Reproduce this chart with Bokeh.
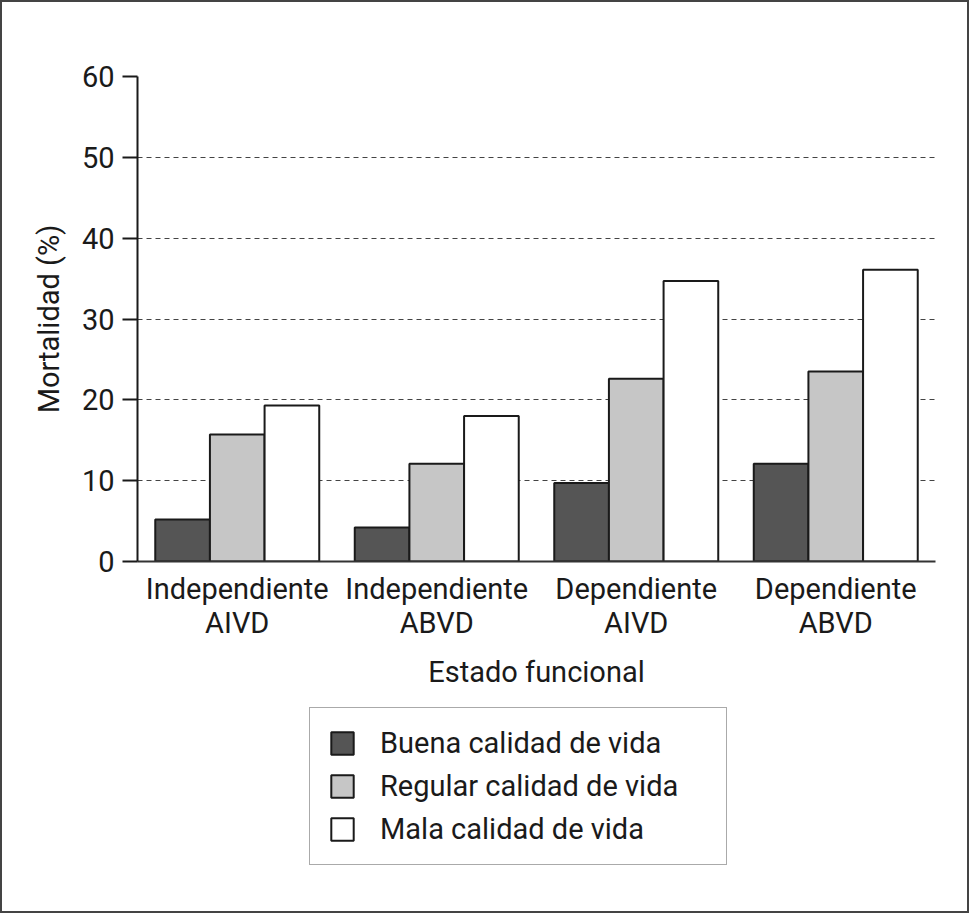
from bokeh.plotting import figure
from bokeh.layouts import column
from bokeh.models import ColumnDataSource, Range1d, FactorRange, FixedTicker, Legend, LegendItem
from bokeh.transform import dodge
from bokeh.embed import file_html
from bokeh.resources import INLINE

categories = ["Independiente\nAIVD", "Independiente\nABVD", "Dependiente\nAIVD", "Dependiente\nABVD"]
buena = [5.2, 4.2, 9.7, 12.1]
regular = [15.7, 12.1, 22.6, 23.5]
mala = [19.3, 18.0, 34.7, 36.1]
series_names = ["Buena calidad de vida", "Regular calidad de vida", "Mala calidad de vida"]
y_ticks = [0, 10, 20, 30, 40, 50, 60]

FONT = "Roboto"
FS = "29px"
TXT = "#1a1a1a"
fills = ["#555555", "#c6c6c6", "#ffffff"]
OUTLINE = "#1a1a1a"

source = ColumnDataSource(data=dict(cat=categories, buena=buena, regular=regular, mala=mala))

p = figure(x_range=categories, y_range=Range1d(0, 60),
           width=965, height=698,
           min_border_left=135, min_border_right=32, min_border_top=74, min_border_bottom=139,
           output_backend="svg", toolbar_location=None)

bw = 0.274
fields = ["buena", "regular", "mala"]
offsets = [-bw, 0.0, bw]
for f, c, o in zip(fields, fills, offsets):
    p.vbar(x=dodge("cat", o, range=p.x_range), top=f, width=bw, bottom=0,
           source=source, fill_color=c, line_color=OUTLINE, line_width=2)

p.outline_line_color = None
p.xgrid.grid_line_color = None
p.ygrid.grid_line_color = "#444444"
p.ygrid.grid_line_dash = "5 4"
p.ygrid.grid_line_width = 1
p.ygrid.ticker = FixedTicker(ticks=y_ticks)

p.yaxis.ticker = FixedTicker(ticks=y_ticks)
p.yaxis.minor_tick_line_color = None
p.yaxis.major_tick_in = 0
p.yaxis.major_tick_out = 15
p.yaxis.major_tick_line_width = 2
p.yaxis.major_tick_line_color = "#1a1a1a"
p.yaxis.axis_line_width = 2
p.yaxis.axis_line_color = "#1a1a1a"
p.yaxis.major_label_standoff = 8
p.yaxis.axis_label = "Mortalidad (%)"
p.yaxis.axis_label_standoff = 13

p.xaxis.major_tick_line_color = None
p.xaxis.minor_tick_line_color = None
p.xaxis.axis_line_width = 2
p.xaxis.axis_line_color = "#333333"
p.xaxis.major_label_standoff = 4
p.xaxis.axis_label = "Estado funcional"
p.xaxis.axis_label_standoff = 12
p.xaxis.major_label_text_line_height = 1.0

for ax in [p.xaxis[0], p.yaxis[0]]:
    ax.major_label_text_font = FONT
    ax.major_label_text_font_size = FS
    ax.major_label_text_color = TXT
    ax.axis_label_text_font = FONT
    ax.axis_label_text_font_size = FS
    ax.axis_label_text_color = TXT
    ax.axis_label_text_font_style = "normal"

# legend panel (separate canvas below the chart); its bar renderers are hidden,
# they only provide the legend swatches
lg = figure(x_range=FactorRange(*categories), y_range=Range1d(-1000, -999), width=965, height=211,
            min_border=0, x_axis_location=None, y_axis_location=None,
            output_backend="svg", toolbar_location=None)
lg.outline_line_color = None
lg.grid.visible = False
leg_renderers = []
for f, c in zip(fields, fills):
    r = lg.vbar(x="cat", top=f, bottom=0, width=bw, source=source,
                fill_color=c, line_color=OUTLINE, line_width=2)
    r.visible = False
    leg_renderers.append(r)

items = [LegendItem(label=n, renderers=[r]) for n, r in zip(series_names, leg_renderers)]
legend = Legend(items=items, location=(172, 46),
                glyph_width=28, glyph_height=28, label_height=28, label_width=328,
                spacing=9, padding=18, margin=0, label_standoff=24,
                label_text_font=FONT, label_text_font_size=FS, label_text_color=TXT,
                border_line_color="#555555", border_line_width=1.5,
                background_fill_color="#ffffff", background_fill_alpha=1.0,
                inactive_fill_alpha=0.0)
lg.add_layout(legend, "center")

layout = column(p, lg, spacing=0, styles={"border": "2px solid #444444"})

open("out.html", "w").write(file_html(layout, INLINE))
